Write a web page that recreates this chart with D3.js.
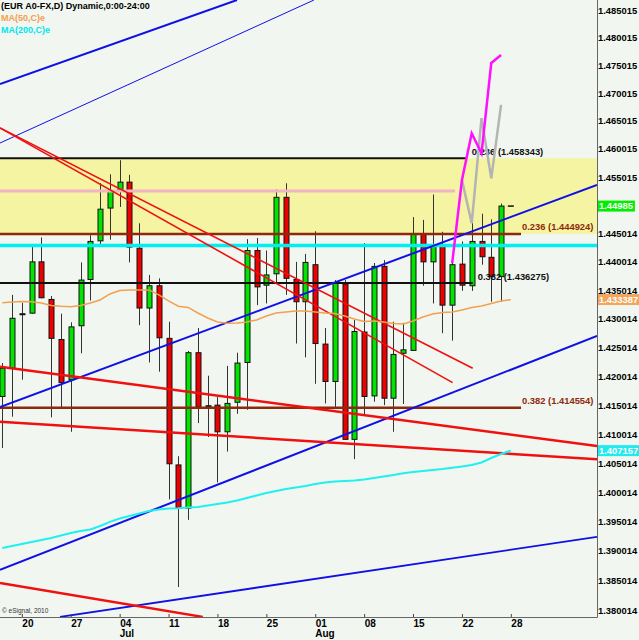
<!DOCTYPE html>
<html><head><meta charset="utf-8">
<script src="https://d3js.org/d3.v7.min.js"></script>
<style>
body{margin:0;background:#f1f6f0;}
svg{display:block;font-family:"Liberation Sans",Arial,sans-serif;}
</style>
</head><body><div id="chart"></div>
<script>
// ---------- DATA ----------
// daily bars, index 0 = 16 Jun .. index 51 = 26 Aug
const openP  = [1.4165,1.4214,1.4308,1.4310,1.4400,1.4334,1.4264,1.4194,1.4288,1.4369,1.4437,1.4495,1.4527,1.4541,1.4424,1.4319,1.4358,1.4266,1.4047,1.3973,1.4241,1.4148,1.4150,1.4104,1.4155,1.4224,1.4420,1.4359,1.4379,1.4514,1.4369,1.4330,1.4395,1.4256,1.4191,1.4361,1.4091,1.4277,1.4166,1.4392,1.4162,1.4240,1.4245,1.4449,1.4400,1.4428,1.4324,1.4396,1.4358,1.4436,1.4408,1.4374];
const highP  = [1.4223,1.4342,1.4328,1.4431,1.4443,1.4340,1.4309,1.4294,1.4399,1.4447,1.4539,1.4555,1.4580,1.4554,1.4468,1.4377,1.4371,1.4295,1.4062,1.4244,1.4284,1.4201,1.4164,1.4218,1.4241,1.4440,1.4442,1.4420,1.4528,1.4539,1.4400,1.4414,1.4454,1.4284,1.4368,1.4368,1.4298,1.4433,1.4398,1.4403,1.4295,1.4293,1.4479,1.4474,1.4519,1.4453,1.4398,1.4436,1.4483,1.4485,1.4475,1.4503];
const lowP   = [1.4076,1.4130,1.4194,1.4309,1.4336,1.4129,1.4145,1.4104,1.4240,1.4332,1.4430,1.4439,1.4497,1.4399,1.4289,1.4224,1.4208,1.3988,1.3839,1.3953,1.4119,1.4095,1.4017,1.4070,1.4135,1.4142,1.4324,1.4327,1.4362,1.4342,1.4257,1.4233,1.4187,1.4153,1.4147,1.4090,1.4057,1.4133,1.4156,1.4150,1.4104,1.4152,1.4244,1.4358,1.4327,1.4275,1.4262,1.4349,1.4349,1.4395,1.4330,1.4330];
const closeP = [1.4214,1.4301,1.4309,1.4400,1.4337,1.4266,1.4189,1.4286,1.4368,1.4436,1.4493,1.4525,1.4541,1.4426,1.4319,1.4358,1.4267,1.4049,1.3973,1.4241,1.4147,1.4149,1.4104,1.4153,1.4223,1.4420,1.4356,1.4377,1.4514,1.4371,1.4330,1.4399,1.4257,1.4191,1.4362,1.4091,1.4278,1.4165,1.4392,1.4162,1.4238,1.4246,1.4449,1.4400,1.4428,1.4324,1.4395,1.4359,1.4436,1.4409,1.4374,1.44985];

// moving averages, index 0..52
const ma50  = [1.43284,1.43296,1.43305,1.43301,1.43279,1.43235,1.43221,1.43214,1.43235,1.43279,1.43331,1.43436,1.43498,1.43507,1.43507,1.43507,1.43419,1.43314,1.43221,1.43200,1.43103,1.43016,1.42946,1.42923,1.42928,1.42946,1.42981,1.43051,1.43103,1.43121,1.43138,1.43138,1.43121,1.43103,1.43094,1.43051,1.42998,1.42954,1.42963,1.42946,1.42920,1.42911,1.42963,1.43033,1.43086,1.43112,1.43121,1.43156,1.43200,1.43226,1.43270,1.43314,1.433387];
const ma200 = [1.39052,1.39086,1.39120,1.39154,1.39188,1.39222,1.39265,1.39307,1.39341,1.39367,1.39426,1.39495,1.39554,1.39597,1.39640,1.39682,1.39708,1.39725,1.39728,1.39739,1.39751,1.39776,1.39802,1.39827,1.39861,1.39904,1.39947,1.39989,1.40024,1.40058,1.40084,1.40109,1.40143,1.40169,1.40186,1.40195,1.40203,1.40220,1.40246,1.40272,1.40298,1.40326,1.40349,1.40366,1.40383,1.40400,1.40421,1.40443,1.40469,1.40512,1.40589,1.40658,1.407157];

// axis ticks
const xTickIndex  = [2,7,12,17,22,27,32,37,42,47,52];
const xTickLabels = ["20","27","04","11","18","25","01","08","15","22","28"];
const monthIndex  = [12,32];
const monthLabels = ["Jul","Aug"];
const yTickValues = [1.380014,1.385014,1.390014,1.395014,1.400014,1.405014,1.410014,1.415014,1.420014,1.425014,1.430014,1.435014,1.440014,1.445014,1.455015,1.460015,1.465015,1.470015,1.475015,1.480015,1.485015];
const yTickLabels = ["1.380014","1.385014","1.390014","1.395014","1.400014","1.405014","1.410014","1.415014","1.420014","1.425014","1.430014","1.435014","1.440014","1.445014","1.455015","1.460015","1.465015","1.470015","1.475015","1.480015","1.485015"];

// fibonacci levels (value, end bar of line, label)
const fibValues = [1.458343,1.444924,1.436275,1.414554];
const fibEnds   = [47.5,53.04,48.1,53.04];
const fibLabels = ["0.236 (1.458343)","0.236 (1.444924)","0.382 (1.436275)","0.382 (1.414554)"];
const fibKinds  = ["black","brown","black","brown"];

// other horizontal levels
const pinkLevel = [1.45253, 46.3];
const cyanLevel = 1.44288;
const zoneTop = 1.458343, zoneBottom = 1.444924;

// trend lines [bar1, price1, bar2, price2]
const blueLines = [
  [-0.235,1.47165,24.0,1.48683],
  [-0.235,1.46107,31.87,1.48683],
  [-0.235,1.41469,60.81,1.45360],
  [-0.235,1.38679,60.81,1.42702],
  [5.9,1.37885,60.81,1.39239]
];
const redLines = [
  [-0.235,1.46376,48.1,1.4214],
  [-0.235,1.46376,46.05,1.4189],
  [-0.235,1.42167,60.81,1.40796],
  [-0.235,1.41215,60.81,1.40567],
  [-0.235,1.38459,20.5,1.37885]
];

// projections
const magentaIdx = [46,47,48,49,50,51];
const magentaVal = [1.43975,1.45448,1.46281,1.45923,1.47543,1.47687];
const greyIdx = [47,48,49,50,51];
const greyVal = [1.45448,1.44680,1.46550,1.45478,1.46788];

const lastPrice = 1.44985, lastBar = 52;
const legendLines = ["(EUR A0-FX,D) Dynamic,0:00-24:00","MA(50,C)e","MA(200,C)e"];

// ---------- CHART ----------
const W=639, H=640, plotR=597, plotB=617;
const x = d3.scaleLinear().domain([-0.235,60.81]).range([0,plotR]);
const y = d3.scaleLog().domain([1.380014,1.485015]).range([610,10]);
const AX_FS = 9.4;

const svg = d3.select("#chart").append("svg").attr("width",W).attr("height",H);
svg.append("rect").attr("width",W).attr("height",H).attr("fill","#f1f6f0");
svg.append("clipPath").attr("id","clip").append("rect").attr("x",0).attr("y",0).attr("width",plotR).attr("height",plotB);
const g = svg.append("g").attr("clip-path","url(#clip)");

// zone
g.append("rect").attr("x",0).attr("width",plotR)
  .attr("y",y(zoneTop)).attr("height",y(zoneBottom)-y(zoneTop)).attr("fill","#f4f4a2");

// candles
const n = openP.length;
const idx = d3.range(n);
const bw = 5;
g.append("g").selectAll("line").data(idx).join("line")
  .attr("x1",i=>Math.round(x(i))+0.5).attr("x2",i=>Math.round(x(i))+0.5)
  .attr("y1",i=>y(highP[i])).attr("y2",i=>y(lowP[i]))
  .attr("stroke","#333").attr("stroke-width",1);
g.append("g").selectAll("rect").data(idx).join("rect")
  .attr("x",i=>Math.round(x(i))-2)
  .attr("width",bw)
  .attr("y",i=>y(Math.max(openP[i],closeP[i])))
  .attr("height",i=>Math.max(1,Math.abs(y(openP[i])-y(closeP[i]))))
  .attr("fill",i=>closeP[i]>=openP[i]?"#00e400":"#ee0000")
  .attr("stroke","#111").attr("stroke-width",1);

// horizontal levels
g.append("line").attr("x1",0).attr("x2",x(pinkLevel[1]))
  .attr("y1",y(pinkLevel[0])).attr("y2",y(pinkLevel[0]))
  .attr("stroke","#f0b4c4").attr("stroke-width",3);
g.append("line").attr("x1",0).attr("x2",plotR)
  .attr("y1",y(cyanLevel)).attr("y2",y(cyanLevel))
  .attr("stroke","#00f0f0").attr("stroke-width",3.5);
fibValues.forEach((v,k)=>{
  const col = fibKinds[k]==="black" ? "#111" : "#8e2a0c";
  g.append("line").attr("x1",0).attr("x2",x(fibEnds[k]))
    .attr("y1",y(v)).attr("y2",y(v))
    .attr("stroke",col).attr("stroke-width",fibKinds[k]==="black"?2:2.5);
  g.append("text").attr("x",x(fibEnds[k])+ (fibKinds[k]==="black"?5:1)).attr("y",y(v)-3.5)
    .attr("font-size",AX_FS).attr("font-weight","bold").attr("fill",col).text(fibLabels[k]);
});

// trend lines
const tl = (arr,col,widths)=>arr.forEach((d,k)=>{
  g.append("line").attr("x1",x(d[0])).attr("y1",y(d[1])).attr("x2",x(d[2])).attr("y2",y(d[3]))
   .attr("stroke",col).attr("stroke-width",widths[k]);
});
tl(blueLines,"#1010e6",[2,1,2,2,1.8]);
tl(redLines,"#f01010",[1.6,1.6,2.5,2.5,2.5]);

// moving averages
const lineGen = d3.line().x((d,i)=>x(i)).y(d=>y(d));
g.append("path").datum(ma50).attr("d",lineGen).attr("fill","none").attr("stroke","#f3a050").attr("stroke-width",1.5);
g.append("path").datum(ma200).attr("d",lineGen).attr("fill","none").attr("stroke","#20f0f0").attr("stroke-width",2);

// projections
const pLine = d3.line().x(d=>x(d[0])).y(d=>y(d[1]));
g.append("path").datum(greyIdx.map((d,k)=>[d,greyVal[k]])).attr("d",pLine)
  .attr("fill","none").attr("stroke","#b4b4b4").attr("stroke-width",2.5);
g.append("path").datum(magentaIdx.map((d,k)=>[d,magentaVal[k]])).attr("d",pLine)
  .attr("fill","none").attr("stroke","#ff10ff").attr("stroke-width",2.5);

// last price dash
g.append("line").attr("x1",x(lastBar)-3).attr("x2",x(lastBar)+3)
  .attr("y1",y(lastPrice)).attr("y2",y(lastPrice)).attr("stroke","#111").attr("stroke-width",1.5);

// axes
const yAxis = d3.axisRight(y).tickValues(yTickValues).tickFormat((d,i)=>yTickLabels[i]).tickSize(0).tickPadding(1);
const ya = svg.append("g").attr("transform",`translate(${plotR},0)`).call(yAxis);
ya.select(".domain").remove();
ya.selectAll("text").attr("font-size",AX_FS).attr("font-weight","bold").attr("fill","#000").attr("font-family","Liberation Sans, Arial, sans-serif");

const xAxis = d3.axisBottom(x).tickValues(xTickIndex).tickFormat((d,i)=>xTickLabels[i]).tickSizeInner(-3).tickSizeOuter(0).tickPadding(3);
const xa = svg.append("g").attr("transform",`translate(0,${plotB})`).call(xAxis);
xa.select(".domain").remove();
xa.selectAll(".tick line").attr("stroke","#444");
xa.selectAll("text").attr("text-anchor","start").attr("font-size",10).attr("font-weight","bold").attr("fill","#000").attr("font-family","Liberation Sans, Arial, sans-serif");

// month labels
svg.append("g").selectAll("text").data(monthIndex).join("text")
  .attr("x",i=>x(i)).attr("y",637).attr("font-size",10).attr("font-weight","bold")
  .text((d,k)=>monthLabels[k]);

// frame lines
svg.append("line").attr("x1",0).attr("x2",plotR+0.5).attr("y1",plotB+0.5).attr("y2",plotB+0.5).attr("stroke","#666");
svg.append("line").attr("x1",plotR+0.5).attr("x2",plotR+0.5).attr("y1",0).attr("y2",plotB+0.5).attr("stroke","#666");

// price boxes
const boxes = [[lastPrice,"1.44985","#00ee00"],[ma50[ma50.length-1],"1.433387","#f3a55a"],[ma200[ma200.length-1],"1.407157","#20eaf0"]];
boxes.forEach(b=>{
  const gy = y(b[0]);
  const t = svg.append("text").attr("x",599).attr("y",gy).attr("dy","0.35em")
    .attr("font-size",AX_FS).attr("font-weight","bold").attr("fill","#fff").text(b[1]);
  const bb = t.node().getBBox();
  svg.insert("rect", () => t.node()).attr("x",598).attr("y",gy-5.5).attr("width",Math.min(bb.width+3,41)).attr("height",11).attr("fill",b[2]);
});

// legend
const lcol = ["#000","#f3a050","#00e6ee"];
legendLines.forEach((s,k)=>{
  svg.append("text").attr("x",1).attr("y",9+k*12).attr("font-size",9).attr("font-weight","bold")
    .attr("fill",lcol[k]).text(s);
});
svg.append("text").attr("x",2).attr("y",613).attr("font-size",6.5).attr("fill","#333").text("© eSignal, 2010");
</script>
</body></html>
